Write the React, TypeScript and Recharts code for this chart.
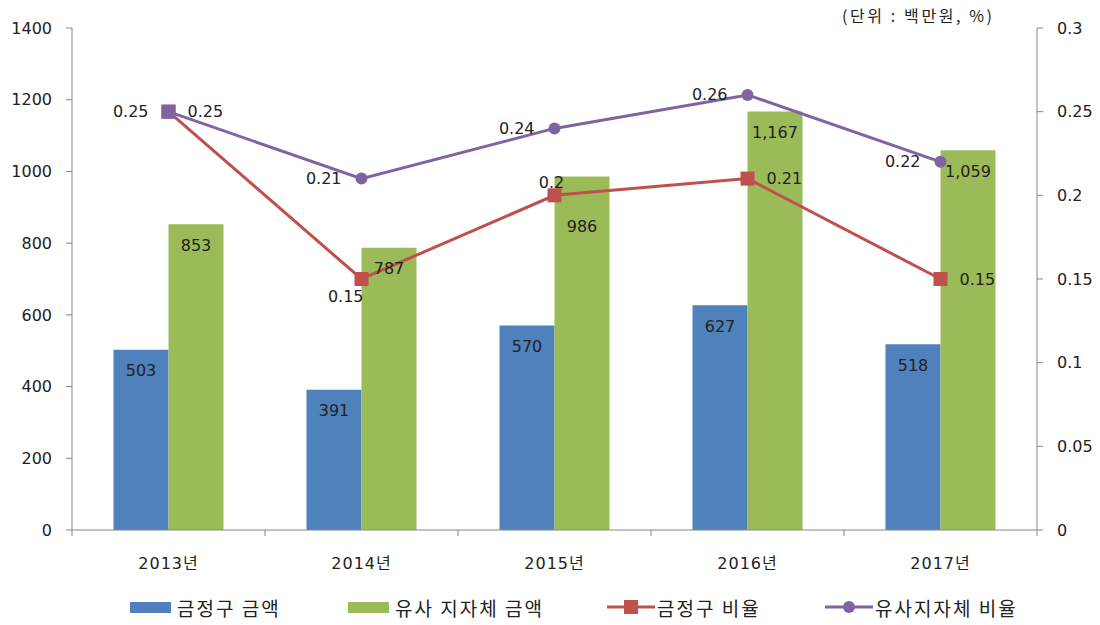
import { ComposedChart, Bar, Line, XAxis, YAxis, LabelList } from 'recharts';

// 연도별 금액(백만원)과 비율
const years = ['2013년', '2014년', '2015년', '2016년', '2017년'];
const geumjeongAmount = [503, 391, 570, 627, 518];
const similarAmount = [853, 787, 986, 1167, 1059];
const geumjeongRatio = [0.25, 0.15, 0.2, 0.21, 0.15];
const similarRatio = [0.25, 0.21, 0.24, 0.26, 0.22];
const leftTicks = [0, 200, 400, 600, 800, 1000, 1200, 1400];
const rightTicks = [0, 0.05, 0.1, 0.15, 0.2, 0.25, 0.3];

const BLUE = '#4F81BD';
const GREEN = '#9BBB59';
const RED = '#C0504D';
const PURPLE = '#8064A2';
const AXIS = '#868686';
const FONT = '"DejaVu Sans", "Noto Sans CJK KR", sans-serif';

const chartData = years.map((year, i) => ({
    year,
    amount: geumjeongAmount[i],
    similar: similarAmount[i],
    ratio: geumjeongRatio[i],
    similarRatio: similarRatio[i]
}));

const YearTick = (props: any) => {
    const { x, y, payload, index } = props;
    const half = payload.offset ?? 0;
    const top = y - 8;
    return (
        <g>
            <line x1={x - half} x2={x - half} y1={top} y2={top + 6} stroke={AXIS} />
            {index === years.length - 1 && (
                <line x1={x + half} x2={x + half} y1={top} y2={top + 6} stroke={AXIS} />
            )}
            <text x={x} y={top + 39} textAnchor="middle" fontSize={16} fill="#222" fontFamily={FONT}
                letterSpacing={1}>
                {payload.value}
            </text>
        </g>
    );
};

const barLabel = (props: any) => {
    const { x, y, width, value, index } = props;
    // 2015년 유사 지자체 라벨은 선 라벨과 겹치지 않게 아래로
    const dy = props.pushDown && index === 2 ? 50 : 21;
    return (
        <text x={x + width / 2} y={y + dy} textAnchor="middle" dominantBaseline="central"
            fontSize={16} fill="#222" fontFamily={FONT}>
            {Number(value).toLocaleString('en-US')}
        </text>
    );
};

// 금정구 비율 라벨: 대부분 오른쪽, 2014년은 아래, 2015년은 위
const redLabel = (props: any) => {
    const { x, y, value, index } = props;
    let dx = 19, dy = 0, anchor = 'start';
    if (index === 1) { dx = 2; dy = 17; anchor = 'end'; }
    if (index === 2) { dx = -3; dy = -13; anchor = 'middle'; }
    return (
        <text x={x + dx} y={y + dy} textAnchor={anchor} dominantBaseline="central"
            fontSize={16} fill="#222" fontFamily={FONT}>{value}</text>
    );
};

const purpleLabel = (props: any) => {
    const { x, y, value } = props;
    return (
        <text x={x - 20} y={y} textAnchor="end" dominantBaseline="central"
            fontSize={16} fill="#222" fontFamily={FONT}>{value}</text>
    );
};

// 두 비율이 같은 점은 원본처럼 보라색 사각형으로 겹쳐 보임
const purpleDot = (p: any) => {
    if (geumjeongRatio[p.index] === similarRatio[p.index]) {
        return <rect key={p.index} x={p.cx - 7} y={p.cy - 7} width={14} height={14} fill={PURPLE} />;
    }
    return <circle key={p.index} cx={p.cx} cy={p.cy} r={6} fill={PURPLE} />;
};

const legendItems = [
    { name: '금정구 금액', color: BLUE, kind: 'bar', left: 130 },
    { name: '유사 지자체 금액', color: GREEN, kind: 'bar', left: 348 },
    { name: '금정구 비율', color: RED, kind: 'square', left: 607 },
    { name: '유사지자체 비율', color: PURPLE, kind: 'circle', left: 825 }
];

export default function App() {
    const tickStyle = { fill: '#222', fontSize: 16, fontFamily: FONT };
    return (
        <div style={{ position: 'absolute', left: 0, top: 0, width: 1100, height: 625, background: '#fff' }}>
            <ComposedChart width={1100} height={625} data={chartData} barGap={0} barCategoryGap="21.5%"
                margin={{ top: 28, right: 0, bottom: 50, left: 0 }}>
                <XAxis dataKey="year" stroke={AXIS} tickLine={false} height={45} tick={<YearTick />} />
                <YAxis yAxisId="left" domain={[0, 1400]} ticks={leftTicks} width={72} stroke={AXIS}
                    tickSize={6} tickMargin={14} tick={tickStyle} interval={0} />
                <YAxis yAxisId="right" orientation="right" domain={[0, 0.3]} ticks={rightTicks} width={63}
                    stroke={AXIS} tickSize={6} tickMargin={14} tick={tickStyle} interval={0} />
                <Bar yAxisId="left" dataKey="amount" fill={BLUE} isAnimationActive={false}>
                    <LabelList dataKey="amount" content={barLabel} />
                </Bar>
                <Bar yAxisId="left" dataKey="similar" fill={GREEN} isAnimationActive={false}>
                    <LabelList dataKey="similar" content={(p: any) => barLabel({ ...p, pushDown: true })} />
                </Bar>
                <Line yAxisId="right" dataKey="ratio" stroke={RED} strokeWidth={3} isAnimationActive={false}
                    dot={(p: any) => <rect key={p.index} x={p.cx - 7} y={p.cy - 7} width={14} height={14} fill={RED} />}>
                    <LabelList dataKey="ratio" content={redLabel} />
                </Line>
                <Line yAxisId="right" dataKey="similarRatio" stroke={PURPLE} strokeWidth={3} isAnimationActive={false}
                    dot={purpleDot}>
                    <LabelList dataKey="similarRatio" content={purpleLabel} />
                </Line>
            </ComposedChart>
            <div style={{ position: 'absolute', left: 842, top: 3, fontSize: 16, letterSpacing: 2.6,
                fontFamily: '"Noto Sans CJK KR", sans-serif', color: '#222', whiteSpace: 'nowrap' }}>
                (단위 : 백만원, %)
            </div>
            {legendItems.map(item => (
                <div key={item.name} style={{ position: 'absolute', left: item.left, top: 594, height: 26,
                    display: 'flex', alignItems: 'center', fontFamily: '"Noto Sans CJK KR", sans-serif',
                    fontSize: 19, letterSpacing: 2, color: '#222', whiteSpace: 'nowrap' }}>
                    {item.kind === 'bar' ? (
                        <span style={{ width: 41, height: 11, background: item.color, marginRight: 6 }} />
                    ) : (
                        <svg width={48} height={16} style={{ marginRight: 2 }}>
                            <line x1={0} x2={48} y1={8} y2={8} stroke={item.color} strokeWidth={3} />
                            {item.kind === 'square'
                                ? <rect x={17} y={1} width={14} height={14} fill={item.color} />
                                : <circle cx={24} cy={8} r={6} fill={item.color} />}
                        </svg>
                    )}
                    <span>{item.name}</span>
                </div>
            ))}
        </div>
    );
}
